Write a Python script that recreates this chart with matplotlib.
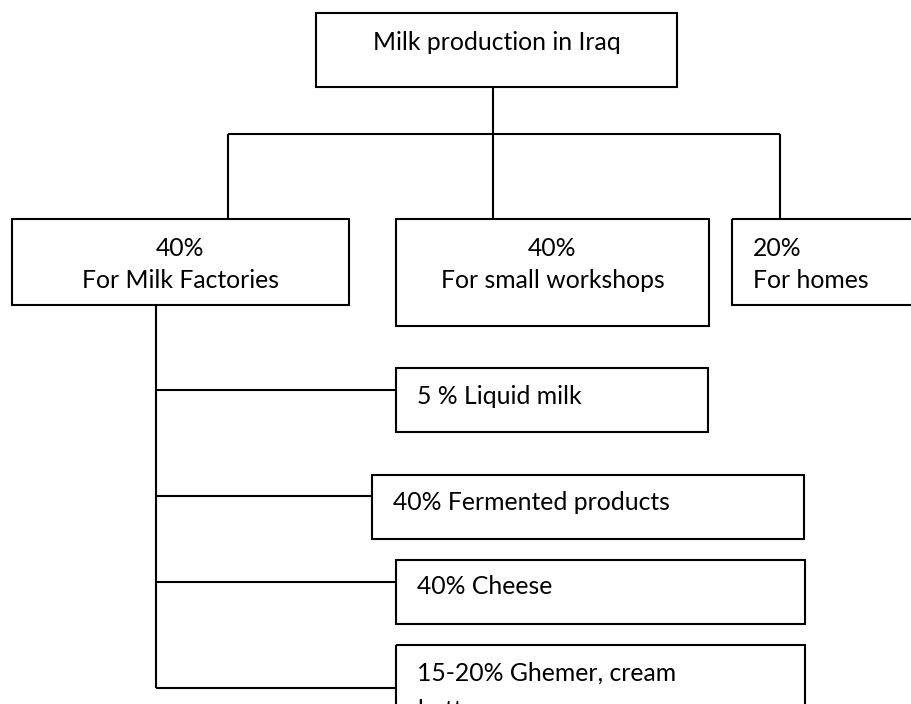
import matplotlib.pyplot as plt
from matplotlib.patches import Rectangle

# labels of the chart
root_label = 'Milk production in Iraq'
level1_shares = ['40%', '40%', '20%']
level1_names = ['For Milk Factories', 'For small workshops', 'For homes']
factory_shares = ['5 %', '40%', '40%', '15-20%']
factory_products = ['Liquid milk', 'Fermented products', 'Cheese', 'Ghemer, cream\nbutter']

# layout in pixels (x0, y0, x1, y1), y grows downward
root_box = (316, 13, 677, 87)
level1_boxes = [(12, 219, 349, 305), (396, 219, 709, 326), (732, 219, 960, 305)]
level1_drop = [228, 493, 780]
bus_y = 134
product_boxes = [(396, 368, 708, 432), (372, 475, 804, 539),
                 (396, 560, 805, 624), (396, 645, 805, 760)]
product_link_y = [390, 496, 582, 688]
text_y = [396, 503, 587, 673]
spine_x = 156

plt.rcParams['font.family'] = ['Lato', 'DejaVu Sans']
fs = 17.8
lw = 1.5

fig = plt.figure(figsize=(9.12, 7.04), dpi=100)
ax = fig.add_axes([0, 0, 1, 1])
ax.set_xlim(0, 912)
ax.set_ylim(704, 0)
ax.axis('off')


def box(b):
    x0, y0, x1, y1 = b
    ax.add_patch(Rectangle((x0, y0), x1 - x0, y1 - y0, fill=False,
                           edgecolor='black', linewidth=lw))


def line(xs, ys):
    ax.plot(xs, ys, color='black', linewidth=lw, solid_capstyle='butt')


# root
box(root_box)
ax.text((root_box[0] + root_box[2]) / 2, 42, root_label, ha='center', va='center', fontsize=fs)
cx = level1_drop[1]
line([cx, cx], [root_box[3], bus_y])
line([level1_drop[0], level1_drop[-1]], [bus_y, bus_y])

# first level
for i, b in enumerate(level1_boxes):
    line([level1_drop[i], level1_drop[i]], [bus_y, b[1]])
    box(b)
    if i < 2:
        mx = (b[0] + b[2]) / 2
        ax.text(mx, 248, level1_shares[i], ha='center', va='center', fontsize=fs)
        ax.text(mx, 280, level1_names[i], ha='center', va='center', fontsize=fs)
    else:
        ax.text(753, 248, level1_shares[i], ha='left', va='center', fontsize=fs)
        ax.text(753, 280, level1_names[i], ha='left', va='center', fontsize=fs)

# factory products
line([spine_x, spine_x], [level1_boxes[0][3], product_link_y[-1]])
for i, b in enumerate(product_boxes):
    line([spine_x, b[0]], [product_link_y[i], product_link_y[i]])
    box(b)
    lines = (factory_shares[i] + ' ' + factory_products[i]).split('\n')
    for k, t in enumerate(lines):
        ax.text(b[0] + 21, text_y[i] + k * 38, t, ha='left', va='center', fontsize=fs)

fig.savefig('out.png', dpi=100)
